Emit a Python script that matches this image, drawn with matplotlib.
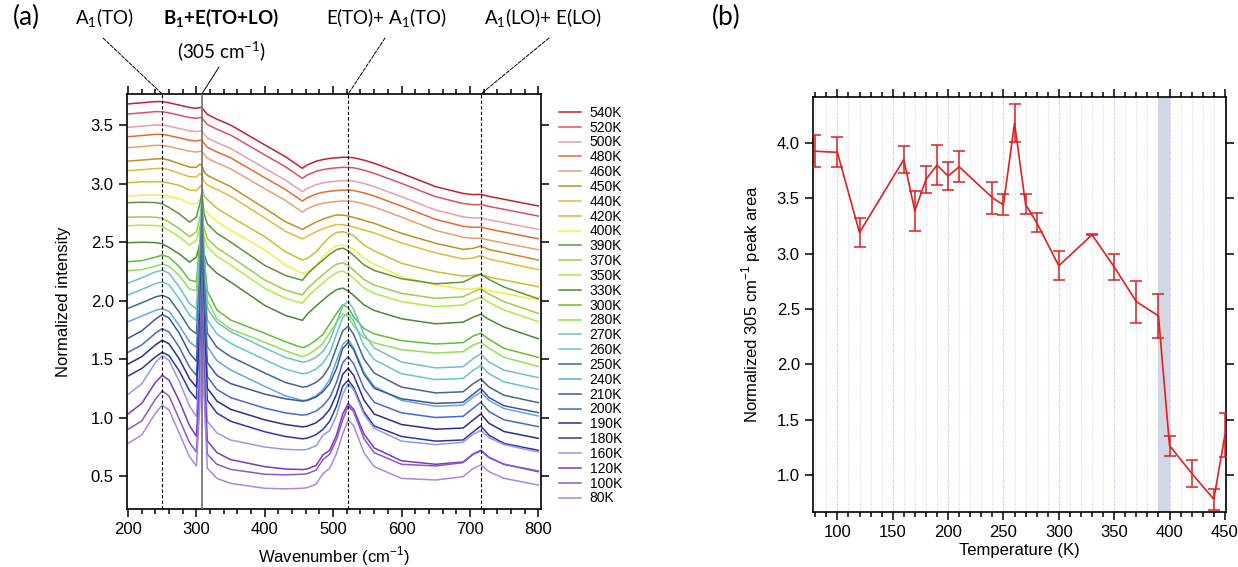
import numpy as np
import matplotlib
matplotlib.use("Agg")
import matplotlib.pyplot as plt
from matplotlib.ticker import MultipleLocator

plt.rcParams['font.family'] = ['Liberation Sans', 'DejaVu Sans']
plt.rcParams['axes.linewidth'] = 1.2

# ---- panel (a): spectra ----
# common wavenumber grid for the shape templates (cm-1)
wn = [200, 220, 240, 250, 260, 275, 290, 300, 305, 308, 311, 316, 330, 350, 400,
      430, 455, 462, 475, 485, 495, 505, 514, 522, 530, 545, 560, 600, 650, 690,
      705, 716, 728, 750, 800]

# representative spectra of each temperature group
hi_500 = [3.48, 3.49, 3.50, 3.50, 3.49, 3.47, 3.45, 3.443, 3.45, 3.45, 3.425, 3.39, 3.35, 3.30, 3.13,
          3.03, 2.93, 2.958, 2.99, 3.005, 3.014, 3.02, 3.024, 3.024, 3.02, 3.00, 2.973, 2.887, 2.773, 2.715,
          2.705, 2.707, 2.69, 2.665, 2.608]
mid_450 = [3.192, 3.20, 3.21, 3.212, 3.20, 3.17, 3.14, 3.138, 3.165, 3.16, 3.10, 3.07, 3.03, 2.973, 2.788,
           2.674, 2.608, 2.631, 2.67, 2.695, 2.715, 2.731, 2.73, 2.722, 2.71, 2.685, 2.66, 2.574, 2.489, 2.437,
           2.446, 2.466, 2.435, 2.409, 2.346]
mid_400 = [2.893, 2.90, 2.90, 2.902, 2.89, 2.87, 2.83, 2.825, 2.86, 2.87, 2.78, 2.75, 2.674, 2.602, 2.432,
           2.303, 2.232, 2.245, 2.30, 2.37, 2.43, 2.468, 2.474, 2.46, 2.44, 2.36, 2.31, 2.204, 2.132, 2.095,
           2.10, 2.11, 2.085, 2.061, 2.004]
g_370 = [2.711, 2.715, 2.712, 2.702, 2.67, 2.615, 2.545, 2.588, 2.70, 2.80, 2.62, 2.53, 2.45, 2.375, 2.175,
         2.09, 2.047, 2.10, 2.17, 2.22, 2.27, 2.31, 2.323, 2.30, 2.26, 2.18, 2.132, 2.061, 2.018, 2.032,
         2.075, 2.10, 2.055, 1.99, 1.89]
g_300 = [2.332, 2.34, 2.37, 2.389, 2.37, 2.29, 2.175, 2.161, 2.5, 2.85, 2.4, 2.08, 1.92, 1.833, 1.72,
         1.648, 1.597, 1.61, 1.66, 1.71, 1.80, 1.89, 1.962, 1.94, 1.86, 1.76, 1.715, 1.657, 1.628, 1.64,
         1.697, 1.72, 1.668, 1.591, 1.514]
g_250 = [1.933, 1.98, 2.03, 2.045, 2.02, 1.90, 1.76, 1.715, 2.2, 2.75, 2.2, 1.72, 1.60, 1.52, 1.38,
         1.30, 1.26, 1.265, 1.30, 1.35, 1.44, 1.60, 1.74, 1.78, 1.71, 1.50, 1.38, 1.26, 1.21, 1.22,
         1.29, 1.33, 1.26, 1.19, 1.127]
g_190 = [1.457, 1.52, 1.62, 1.66, 1.63, 1.50, 1.33, 1.26, 1.75, 2.35, 1.8, 1.25, 1.14, 1.07, 0.98,
         0.94, 0.92, 0.925, 0.955, 1.0, 1.07, 1.20, 1.37, 1.42, 1.36, 1.15, 1.03, 0.94, 0.90, 0.91,
         0.98, 1.03, 0.95, 0.88, 0.822]
g_120 = [1.03, 1.12, 1.30, 1.36, 1.32, 1.14, 0.93, 0.84, 1.35, 2.05, 1.45, 0.80, 0.70, 0.64, 0.58,
         0.56, 0.555, 0.56, 0.59, 0.68, 0.72, 0.85, 1.03, 1.12, 1.07, 0.86, 0.74, 0.63, 0.60, 0.62,
         0.69, 0.72, 0.66, 0.60, 0.537]
g_80 = [0.779, 0.85, 1.036, 1.107, 1.064, 0.865, 0.665, 0.585, 1.1, 1.75, 1.2, 0.566, 0.48, 0.437, 0.395,
        0.39, 0.395, 0.40, 0.43, 0.52, 0.566, 0.694, 0.86, 0.979, 0.93, 0.70, 0.58, 0.48, 0.466, 0.494,
        0.566, 0.594, 0.537, 0.48, 0.423]

shapes = {'hi': hi_500, 'm450': mid_450, 'm400': mid_400, 'g370': g_370, 'g300': g_300,
          'g250': g_250, 'g190': g_190, 'g120': g_120, 'g80': g_80}

labels = ['540K', '520K', '500K', '480K', '460K', '450K', '440K', '420K', '400K', '390K',
          '370K', '350K', '330K', '300K', '280K', '270K', '260K', '250K', '240K', '210K',
          '200K', '190K', '180K', '160K', '120K', '100K', '80K']
start = [3.68, 3.594, 3.48, 3.40, 3.306, 3.192, 3.11, 3.007, 2.893, 2.836,
         2.711, 2.64, 2.494, 2.332, 2.255, 2.147, 2.047, 1.933, 1.819, 1.677,
         1.557, 1.457, 1.355, 1.198, 1.03, 0.899, 0.779]
shape_of = ['hi', 'hi', 'hi', 'hi', 'hi', 'm450', 'm450', 'm400', 'm400', 'g370',
            'g370', 'g370', 'g370', 'g300', 'g300', 'g250', 'g250', 'g250', 'g250', 'g190',
            'g190', 'g190', 'g190', 'g120', 'g120', 'g80', 'g80']
colors = ['#c8202a', '#e0505a', '#e8a0a8', '#e86a30', '#e8a070', '#c09020', '#e8b838', '#c8c030',
          '#f4f040', '#5a9838', '#98d048', '#a8f040', '#4a8a30', '#60c030', '#90e050', '#70c0c8',
          '#60c8c8', '#406890', '#60a8e0', '#3a5898', '#4868d0', '#283090', '#2838a8', '#9898e8',
          '#7838c8', '#8858d0', '#a888e0']

# ---- panel (b): normalized 305 cm-1 peak area ----
temp_b = [80, 100, 120, 160, 170, 180, 190, 200, 210, 240, 250, 260, 270, 280, 300, 330,
          350, 370, 390, 400, 420, 440, 450]
area_b = [3.925, 3.915, 3.19, 3.85, 3.385, 3.67, 3.80, 3.70, 3.785, 3.505, 3.44, 4.18, 3.445,
          3.28, 2.89, 3.17, 2.88, 2.566, 2.437, 1.265, 1.015, 0.78, 1.36]
err_b = [0.145, 0.135, 0.13, 0.125, 0.18, 0.12, 0.18, 0.125, 0.14, 0.145, 0.095, 0.175, 0.09,
         0.085, 0.13, 0.005, 0.12, 0.19, 0.2, 0.09, 0.12, 0.095, 0.2]

W, H = 1238, 567
fig = plt.figure(figsize=(W / 100, H / 100), dpi=100)


def fx(x):
    return x / W


def fy(y):
    return 1 - y / H


ax = fig.add_axes([fx(127), fy(509), fx(541) - fx(127), fy(94) - fy(509)])
for lab, s, sh, c in zip(labels, start, shape_of, colors):
    base = np.array(shapes[sh])
    ax.plot(wn, base + (s - base[0]), color=c, lw=1.1, label=lab)

ax.axvline(250, color='k', lw=0.8, ls=(0, (3, 2)), zorder=5)
ax.axvline(522, color='k', lw=0.8, ls=(0, (3, 2)), zorder=5)
ax.axvline(716, color='k', lw=0.8, ls=(0, (3, 2)), zorder=5)
ax.axvline(308, color='#707070', lw=1.2, zorder=5)

ax.set_xlim(198.5, 804)
ax.set_ylim(0.218, 3.765)
ax.xaxis.set_major_locator(MultipleLocator(100))
ax.xaxis.set_minor_locator(MultipleLocator(20))
ax.yaxis.set_major_locator(MultipleLocator(0.5))
ax.tick_params(which='both', direction='out', top=True, right=True, labelsize=12, width=1.1)
ax.tick_params(which='major', length=6)
ax.tick_params(which='minor', length=3.5)
ax.set_xlabel('Wavenumber (cm$^\\mathregular{-1}$)', fontsize=12, labelpad=5)
ax.set_ylabel('Normalized intensity', fontsize=12, labelpad=14)
ax.legend(loc='upper left', bbox_to_anchor=(1.03, 0.985), borderaxespad=0, frameon=False,
          fontsize=10, labelspacing=0.06, handlelength=1.6, handletextpad=0.6)

# peak labels above panel (a)
lab_font = ['Lato', 'DejaVu Sans']
fig.text(fx(26), fy(17), '(a)', fontsize=19, family=lab_font, ha='center', va='center')
fig.text(fx(104), fy(18), 'A$_\\mathregular{1}$(TO)', fontsize=13.5, family=lab_font, ha='center', va='center')
fig.text(fx(221), fy(18), 'B$_\\mathregular{1}$+E(TO+LO)', fontsize=13.5, family=lab_font,
         weight='bold', ha='center', va='center')
fig.text(fx(222), fy(52), '(305 cm$^\\mathregular{-1}$)', fontsize=13.5, family=lab_font, ha='center', va='center')
fig.text(fx(386), fy(18), 'E(TO)+ A$_\\mathregular{1}$(TO)', fontsize=13.5, family=lab_font, ha='center', va='center')
fig.text(fx(543), fy(18), 'A$_\\mathregular{1}$(LO)+ E(LO)', fontsize=13.5, family=lab_font, ha='center', va='center')

leaders = [(250, 103, 38, '--'), (308, 219, 67, '-'), (522, 385, 38, '--'), (716, 549, 38, '--')]
for xw, tx, ty, style in leaders:
    ax.annotate('', xy=(xw, 1.0), xycoords=('data', 'axes fraction'),
                xytext=(fx(tx), fy(ty)), textcoords='figure fraction',
                arrowprops=dict(arrowstyle='-', lw=0.7, linestyle=style, color='k',
                                shrinkA=0, shrinkB=0))

# ---- panel (b) ----
bx = fig.add_axes([fx(813), fy(512), fx(1226) - fx(813), fy(97) - fy(512)])
bx.axvspan(390, 400, color='#d3d7e3', lw=0, zorder=0)
bx.errorbar(temp_b, area_b, yerr=err_b, color='#e41e1e', lw=1.2, capsize=4, capthick=1.1,
            elinewidth=1.1, zorder=3, clip_on=True)
bx.set_xlim(78, 451)
bx.set_ylim(0.665, 4.415)
bx.xaxis.set_major_locator(MultipleLocator(50))
bx.xaxis.set_minor_locator(MultipleLocator(10))
bx.yaxis.set_major_locator(MultipleLocator(0.5))
bx.grid(which='minor', axis='x', color='#c4c4f2', lw=0.6, ls=(0, (1, 2)))
bx.grid(which='major', axis='x', color='#b0b0ee', lw=0.7, ls=(0, (1, 1.5)))
bx.set_axisbelow(True)
bx.tick_params(which='both', direction='out', top=True, right=True, labelsize=12, width=1.1)
bx.tick_params(which='major', length=6)
bx.tick_params(which='minor', length=3.5)
bx.set_xlabel('Temperature (K)', fontsize=12, labelpad=2)
bx.set_ylabel('Normalized 305 cm$^\\mathregular{-1}$ peak area', fontsize=12, labelpad=10)
fig.text(fx(726), fy(17), '(b)', fontsize=19, family=lab_font, ha='center', va='center')

fig.savefig('out.png', dpi=100)
